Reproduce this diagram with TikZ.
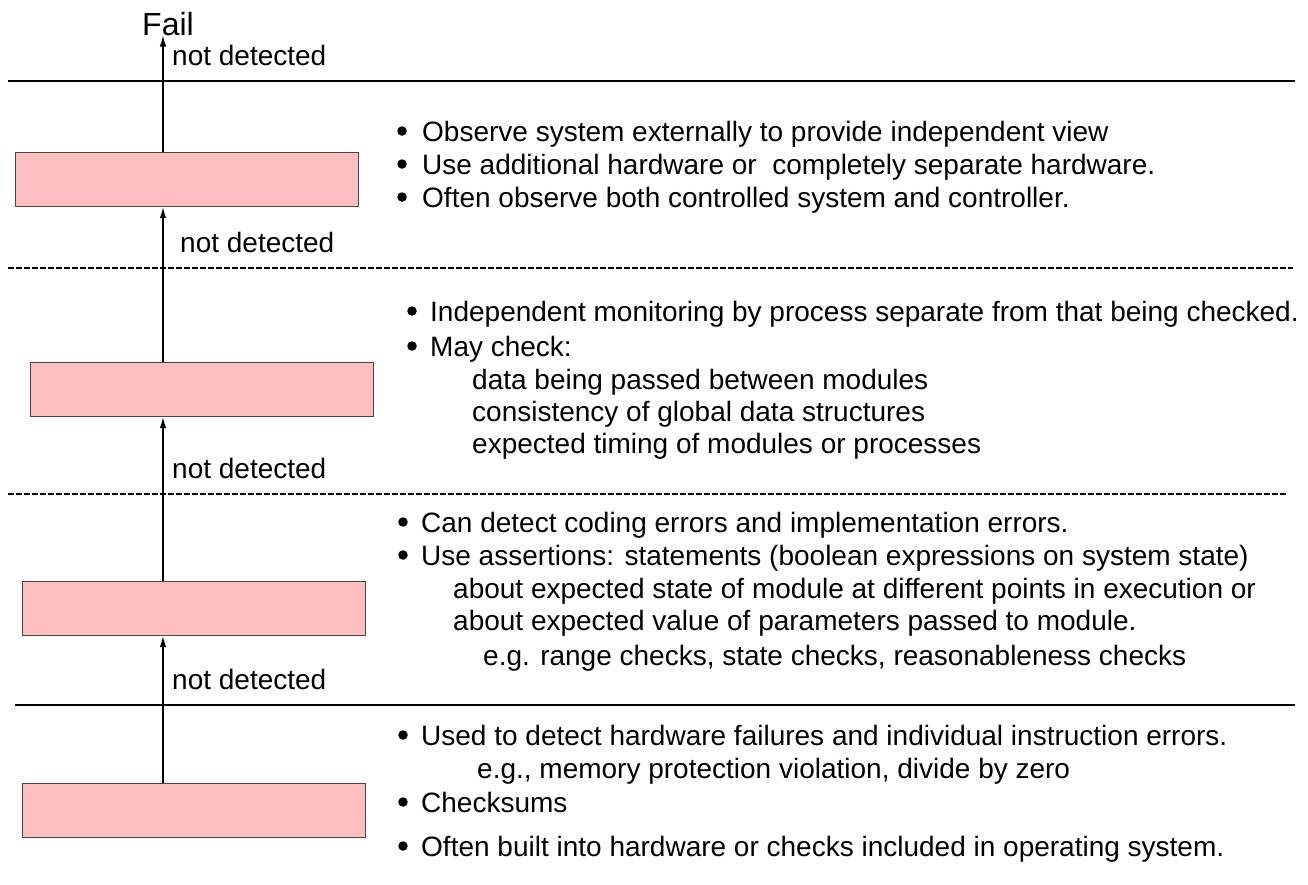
\documentclass[tikz,border=0pt]{standalone}
\usepackage{fontspec}
\setmainfont{Liberation Sans}
\usetikzlibrary{arrows.meta}
\definecolor{boxfill}{RGB}{255,191,191}
\definecolor{boxedge}{RGB}{70,70,70}
\begin{document}
\begin{tikzpicture}[x=1pt,y=-1pt,
  txt/.style={anchor=base west, inner sep=0pt, font=\fontsize{28}{33}\selectfont},
  layerbox/.style={draw=boxedge, fill=boxfill, line width=1.2pt, minimum width=343pt,
                   minimum height=54pt, inner sep=0pt, anchor=north west},
  flow/.style={-{Latex[length=11pt,width=6.5pt]}, line width=1.2pt},
  sep/.style={line width=1.2pt},
  dsep/.style={line width=1.2pt, dash pattern=on 6pt off 2pt},
  dot/.style={circle, fill, inner sep=0pt, minimum size=9.5pt}]
\useasboundingbox (0,0) rectangle (1308,884);

% layer boxes
\node[layerbox] (b1) at (15,152) {};
\node[layerbox] (b2) at (30,362) {};
\node[layerbox] (b3) at (22,581) {};
\node[layerbox] (b4) at (22,783) {};

% failure propagation
\coordinate (ax) at (163,0);
\node[anchor=base west, inner sep=0pt, font=\fontsize{32}{36}\selectfont] (fail) at (142,35) {Fail};
\draw[flow] (ax |- b1.north) -- (ax |- fail.south);
\draw[flow] (ax |- b2.north) -- (ax |- b1.south);
\draw[flow] (ax |- b3.north) -- (ax |- b2.south);
\draw[flow] (ax |- b4.north) -- (ax |- b3.south);

\node[txt] (nd1) at (172,65) {not detected};
\node[txt] (nd2) at (180,252) {not detected};
\node[txt] (nd3) at (172,478) {not detected};
\node[txt] (nd4) at (172,689) {not detected};

% layer separators
\draw[sep]  (8,81) -- (1295,81);
\draw[dsep] (8,268) -- (1293,268);
\draw[dsep] (8,494) -- (1287,494);
\draw[sep]  (15,705) -- (1295,705);

% layer 1
\node[dot] (d11) at (402,131) {};
\node[dot] (d12) at (402,164) {};
\node[dot] (d13) at (402,197) {};
\node[txt] (t11) at (422,141) {Observe system externally to provide independent view};
\node[txt] (t12) at (422,174) {Use additional hardware or \ completely separate hardware.};
\node[txt] (t13) at (422,207) {Often observe both controlled system and controller.};

% layer 2
\node[dot] (d21) at (412,311) {};
\node[dot] (d22) at (412,346) {};
\node[txt] (t21) at (430,321) {Independent monitoring by process separate from that being checked.};
\node[txt] (t22) at (430,356) {May check:};
\node[txt] (t23) at (472,389) {data being passed between modules};
\node[txt] (t24) at (472,421) {consistency of global data structures};
\node[txt] (t25) at (472,453) {expected timing of modules or processes};

% layer 3
\node[dot] (d31) at (403,522) {};
\node[dot] (d32) at (403,555) {};
\node[txt] (t31) at (421,532) {Can detect coding errors and implementation errors.};
\node[txt] (t32) at (421,565) {Use assertions: statements (boolean expressions on system state)};
\node[txt] (t33) at (453,598) {about expected state of module at different points in execution or};
\node[txt] (t34) at (453,630) {about expected value of parameters passed to module.};
\node[txt] (t35) at (483,665) {e.g. range checks, state checks, reasonableness checks};

% layer 4
\node[dot] (d41) at (403,735) {};
\node[dot] (d42) at (403,802) {};
\node[dot] (d43) at (403,846) {};
\node[txt] (t41) at (421,745) {Used to detect hardware failures and individual instruction errors.};
\node[txt] (t42) at (477,778) {e.g., memory protection violation, divide by zero};
\node[txt] (t43) at (421,812) {Checksums};
\node[txt] (t44) at (421,856) {Often built into hardware or checks included in operating system.};
\end{tikzpicture}
\end{document}
